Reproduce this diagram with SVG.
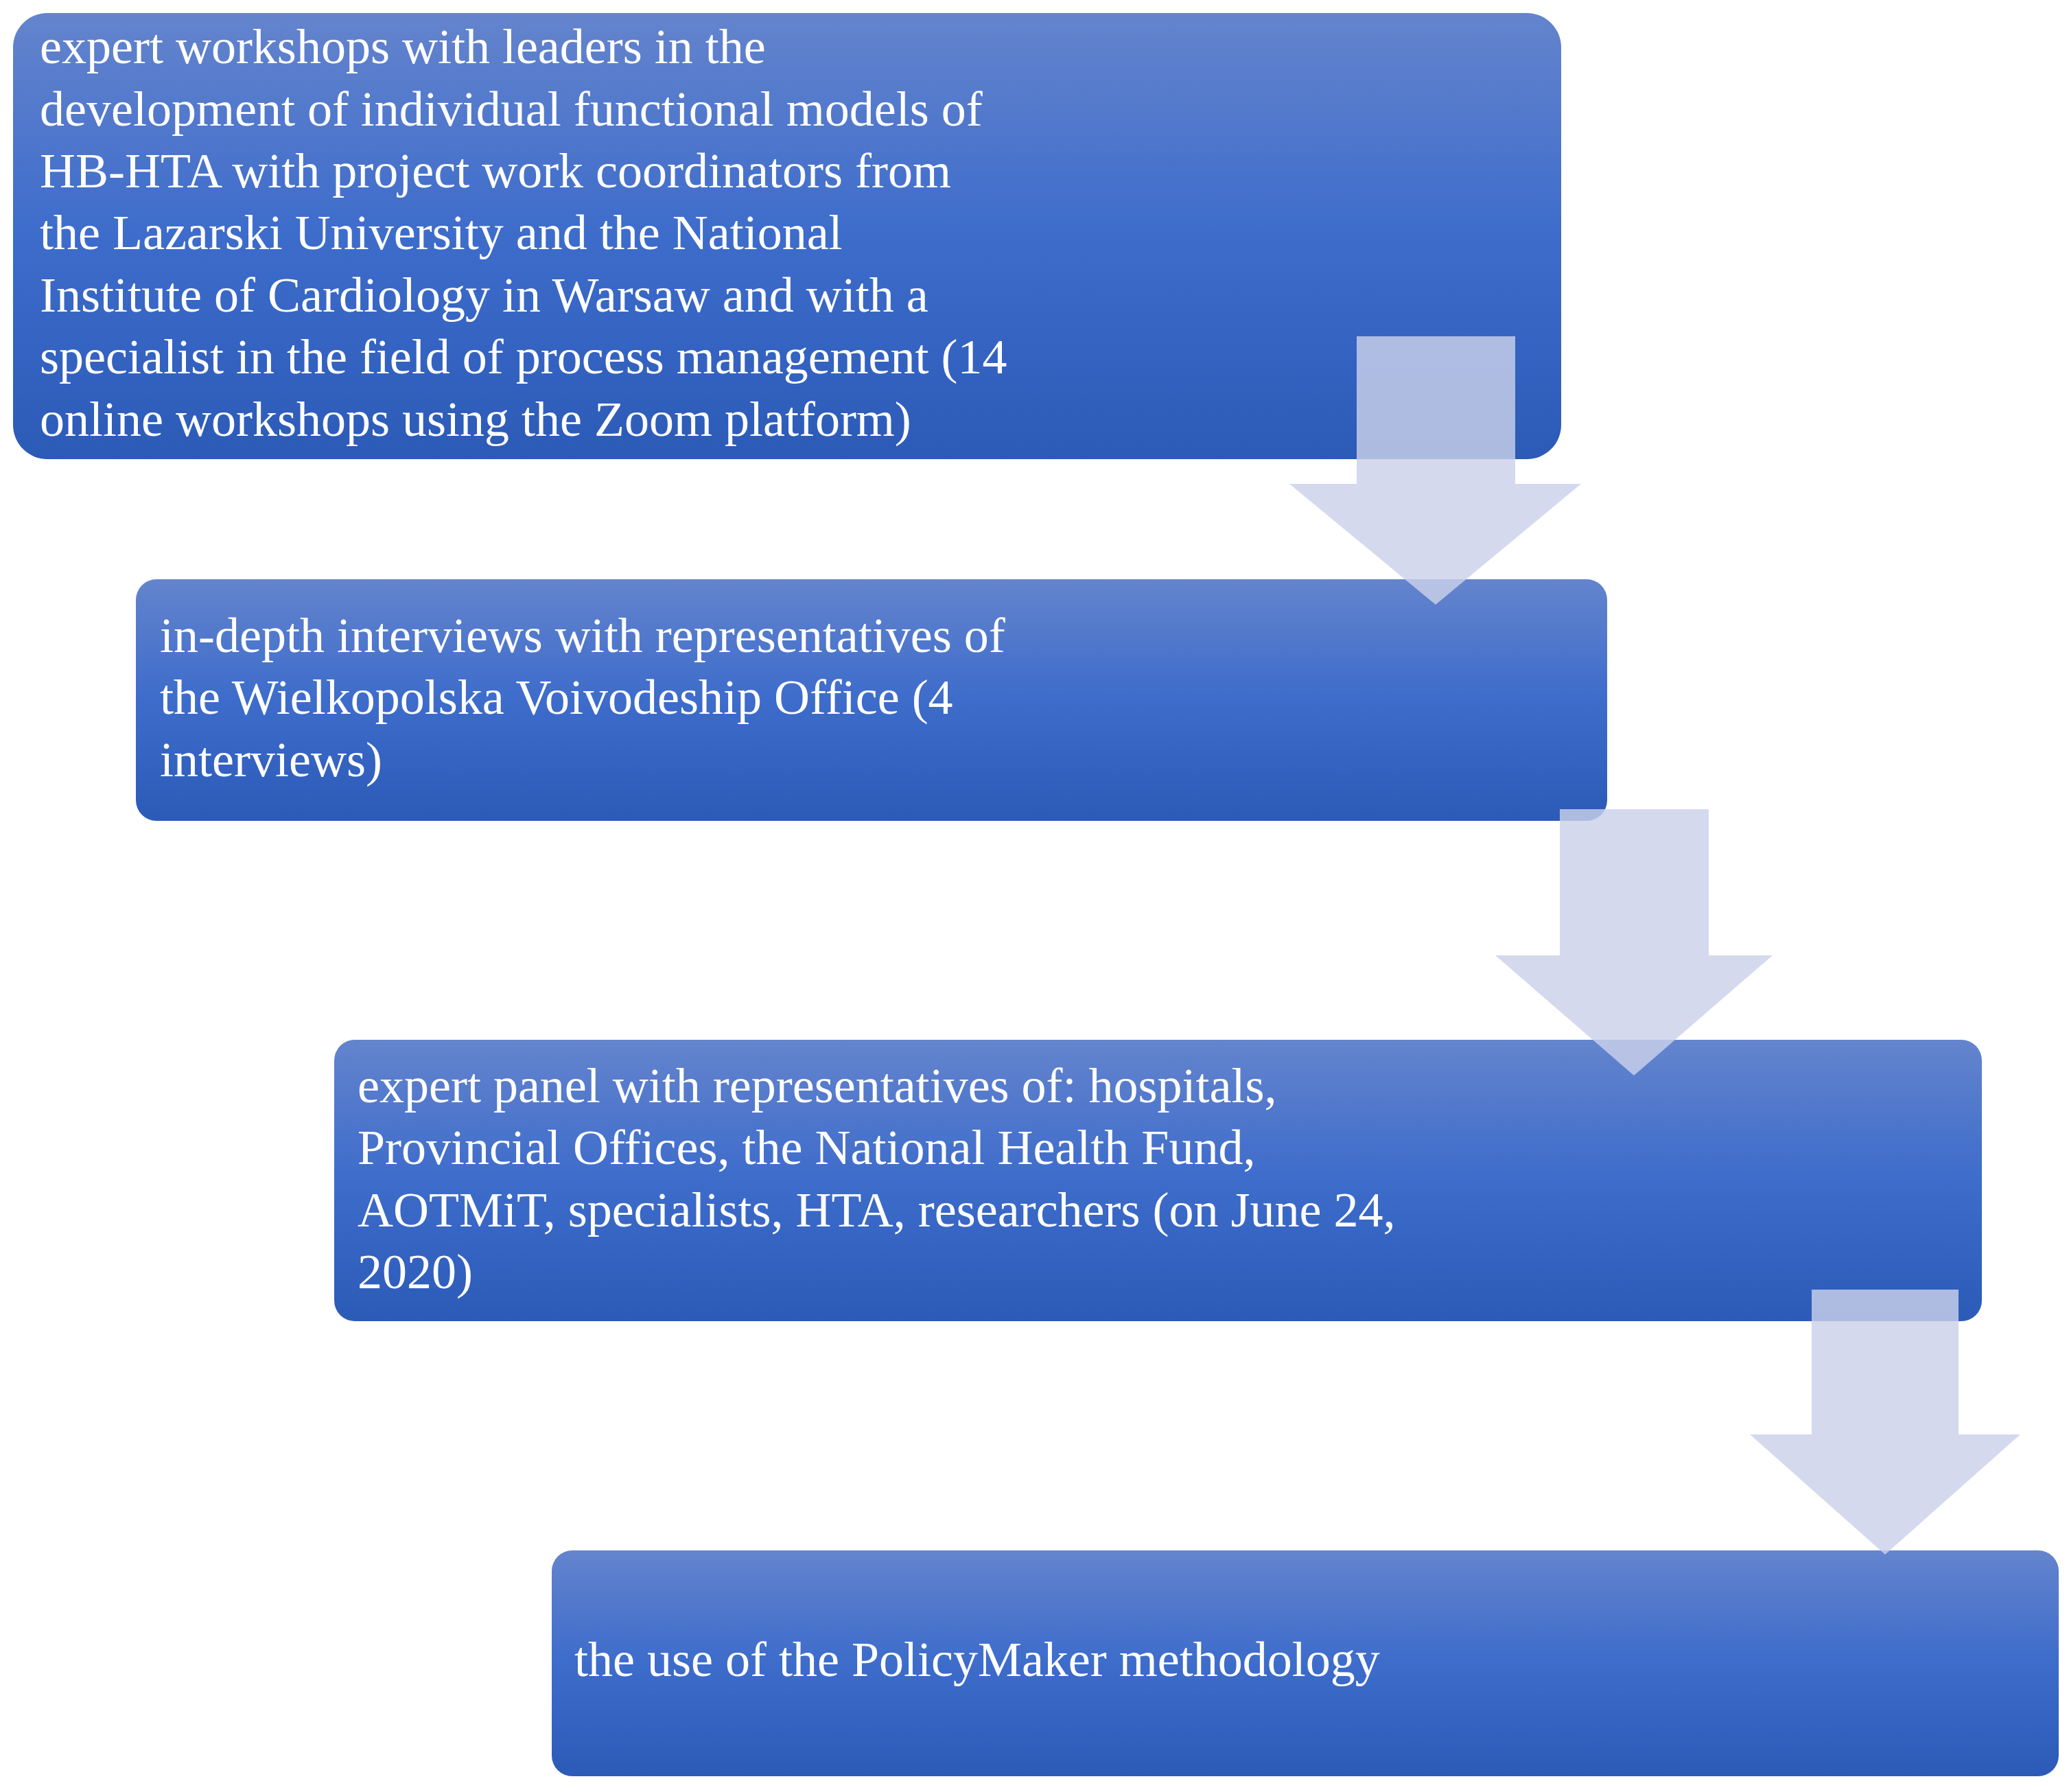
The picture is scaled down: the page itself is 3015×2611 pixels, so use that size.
<svg xmlns="http://www.w3.org/2000/svg" width="3015" height="2611" viewBox="0 0 3015 2611">
<defs>
<linearGradient id="g" x1="0" y1="0" x2="0" y2="1">
<stop offset="0" stop-color="#6484cd"/>
<stop offset="0.5" stop-color="#3d6ccb"/>
<stop offset="1" stop-color="#2c5ab7"/>
</linearGradient>
<style>
.box{fill:url(#g)}
.t{font-family:"Liberation Serif","Times New Roman",serif;font-size:72px;fill:#fff}
.arr{fill:#cbd1ea;fill-opacity:0.82}
</style>
</defs>
<rect width="3015" height="2611" fill="#fff"/>
<g id="node1"><rect class="box" x="19" y="19" width="2256" height="650" rx="50"/>
<text class="t" x="58"><tspan x="58" y="92">expert workshops with leaders in the</tspan><tspan x="58" y="183">development of individual functional models of</tspan><tspan x="58" y="273">HB-HTA with project work coordinators from</tspan><tspan x="58" y="363">the Lazarski University and the National</tspan><tspan x="58" y="454">Institute of Cardiology in Warsaw and with a</tspan><tspan x="58" y="544">specialist in the field of process management (14</tspan><tspan x="58" y="635">online workshops using the Zoom platform)</tspan></text></g>
<g id="node2"><rect class="box" x="198" y="844" width="2144" height="352" rx="30"/>
<text class="t"><tspan x="233" y="950">in-depth interviews with representatives of</tspan><tspan x="233" y="1040">the Wielkopolska Voivodeship Office (4</tspan><tspan x="233" y="1131">interviews)</tspan></text></g>
<g id="node3"><rect class="box" x="487" y="1515" width="2401" height="410" rx="30"/>
<text class="t"><tspan x="521" y="1606">expert panel with representatives of: hospitals,</tspan><tspan x="521" y="1696">Provincial Offices, the National Health Fund,</tspan><tspan x="521" y="1787">AOTMiT, specialists, HTA, researchers (on June 24,</tspan><tspan x="521" y="1877">2020)</tspan></text></g>
<g id="node4"><rect class="box" x="804" y="2259" width="2196" height="329" rx="30"/>
<text class="t" x="837" y="2442">the use of the PolicyMaker methodology</text></g>
<g id="connectors">
<polygon class="arr" points="1977,490 2208,490 2208,705 2304,705 2092,881 1879,705 1977,705"/>
<polygon class="arr" points="2273,1179 2490,1179 2490,1392 2583,1392 2381,1567 2179,1392 2273,1392"/>
<polygon class="arr" points="2640,1879 2854,1879 2854,2090 2944,2090 2747,2265 2550,2090 2640,2090"/>
</g>
</svg>
